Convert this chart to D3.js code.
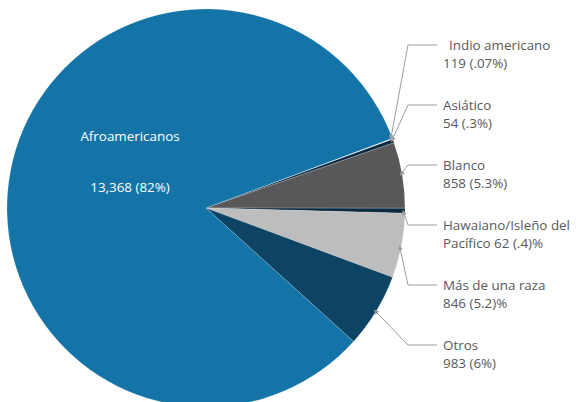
<!DOCTYPE html>
<html>
<head>
<meta charset="utf-8">
<script src="https://cdn.jsdelivr.net/npm/d3@7"></script>
<style>
  body { margin: 0; background: #fff; }
  text { font-family: "Open Sans", sans-serif; }
</style>
</head>
<body>
<div id="chart"></div>
<script>
// data
var categories = ["Indio americano", "Asiático", "Blanco", "Hawaiano/Isleño del", "Más de una raza", "Otros", "Afroamericanos"];
var counts = [119, 54, 858, 62, 846, 983, 13368];
// slice sizes follow the printed percentages
var shares = [0.07, 0.3, 5.3, 0.4, 5.2, 6, 82];
var line2Labels = ["119 (.07%)", "54 (.3%)", "858 (5.3%)", "Pacífico 62 (.4)%", "846 (5.2)%", "983 (6%)", "13,368 (82%)"];
var colors = ["#ffffff", "#0b2a40", "#58585a", "#0b2a40", "#bdbdbd", "#0d4463", "#1474a8"];

var svgWidth = 576;
var svgHeight = 402;
var cx = 206, cy = 208, radius = 199;
var fontSize = "13.4px";

var svg = d3.select("#chart")
    .append("svg")
    .attr("width", svgWidth)
    .attr("height", svgHeight);

var data = categories.map(function (c, i) {
    return { name: c, count: counts[i], value: shares[i], second: line2Labels[i], color: colors[i] };
});

var start = 69.5 * Math.PI / 180;
var pie = d3.pie()
    .sort(null)
    .value(d => d.value)
    .startAngle(start)
    .endAngle(start + 2 * Math.PI);

var arc = d3.arc().innerRadius(0).outerRadius(radius);

var g = svg.append("g")
    .attr("transform", `translate(${cx}, ${cy})`);

var arcs = pie(data);

g.selectAll("path")
    .data(arcs)
    .enter()
    .append("path")
    .attr("d", arc)
    .attr("fill", d => d.data.color)
    .attr("stroke", "rgba(255,255,255,0.35)")
    .attr("stroke-width", 0.5);

// arrow marker
svg.append("defs").append("marker")
    .attr("id", "arrow")
    .attr("viewBox", "0 0 10 10")
    .attr("refX", 9)
    .attr("refY", 5)
    .attr("markerWidth", 5)
    .attr("markerHeight", 5)
    .attr("orient", "auto")
    .append("path")
    .attr("d", "M0,0 L10,5 L0,10 z")
    .attr("fill", "#9d9d9d");

// outside labels for the small slices
var labelX = 443, elbowX = 408, labelTop = 45, labelStep = 60, lineGap = 18;
var small = arcs.slice(0, 6);

small.forEach(function (d, i) {
    var ly = labelTop + i * labelStep;
    var mid = (d.startAngle + d.endAngle) / 2;
    var ax = cx + Math.sin(mid) * (radius - 2);
    var ay = cy - Math.cos(mid) * (radius - 2);
    svg.append("path")
        .attr("d", `M${labelX - 6},${ly} L${elbowX},${ly} L${ax},${ay}`)
        .attr("fill", "none")
        .attr("stroke", "#9d9d9d")
        .attr("stroke-width", 1)
        .attr("marker-end", "url(#arrow)");
    svg.append("text")
        .attr("x", labelX + (i === 0 ? 6 : 0))
        .attr("y", ly + 5)
        .attr("font-size", fontSize)
        .attr("fill", "#58595b")
        .text(d.data.name);
    svg.append("text")
        .attr("x", labelX)
        .attr("y", ly + 5 + lineGap)
        .attr("font-size", fontSize)
        .attr("fill", "#58595b")
        .text(d.data.second);
});

// label inside the big slice
var big = arcs[6];
svg.append("text")
    .attr("x", 130)
    .attr("y", 141)
    .attr("text-anchor", "middle")
    .attr("font-size", fontSize)
    .attr("fill", "#ffffff")
    .text(big.data.name);
svg.append("text")
    .attr("x", 130)
    .attr("y", 192)
    .attr("text-anchor", "middle")
    .attr("font-size", fontSize)
    .attr("fill", "#ffffff")
    .text(big.data.second);
</script>
</body>
</html>
